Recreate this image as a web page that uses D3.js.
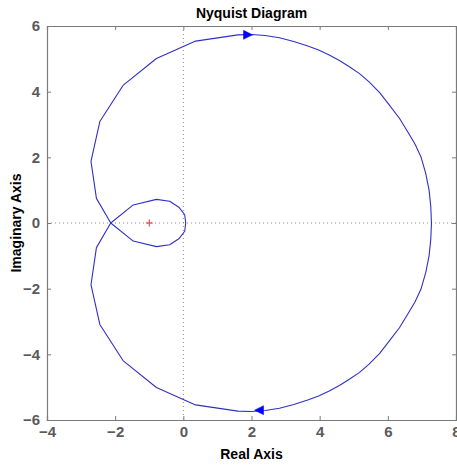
<!DOCTYPE html>
<html>
<head>
<meta charset="utf-8">
<script src="https://cdn.jsdelivr.net/npm/d3@7"></script>
<style>
  html, body { margin: 0; padding: 0; background: #fff; }
  svg { display: block; }
</style>
</head>
<body>
<script>
// Frequency response G(jw) for w >= 0 (real and imaginary parts)
const posRe = [7.28, 7.26, 7.21, 7.11, 6.97, 6.80, 6.60, 6.34, 6.04, 5.76, 5.45, 5.17, 4.87, 4.58, 4.28, 3.97, 3.65, 3.24, 2.82, 2.40, 2.0, 1.6, 0.36, -0.79, -1.77, -2.45, -2.71, -2.55, -2.13, -1.47, -0.79, -0.40, -0.12, 0.04, 0.07];
const posIm = [0, -0.50, -1.0, -1.52, -2.02, -2.40, -2.75, -3.19, -3.60, -3.97, -4.30, -4.55, -4.76, -4.95, -5.12, -5.27, -5.39, -5.53, -5.64, -5.71, -5.74, -5.73, -5.54, -5.01, -4.19, -3.09, -1.88, -0.75, 0, 0.55, 0.72, 0.66, 0.47, 0.25, 0];

// Direction markers along the curve (position and heading: +1 right, -1 left)
const arrowRe = [2.03, 2.09];
const arrowIm = [5.73, -5.70];
const arrowDir = [1, -1];

// Critical point -1 + 0j
const critical = [{ re: -1, im: 0 }];

const xTicks = [-4, -2, 0, 2, 4, 6, 8];
const yTicks = [-6, -4, -2, 0, 2, 4, 6];

const W = 457, H = 466;
const margin = { left: 47, right: 1, top: 26, bottom: 46 };

const svg = d3.select("body").append("svg")
  .attr("width", W).attr("height", H);

svg.append("rect").attr("width", W).attr("height", H).attr("fill", "#fff");

const x = d3.scaleLinear().domain([-4, 8]).range([margin.left, W - margin.right]);
const y = d3.scaleLinear().domain([-6, 6]).range([H - margin.bottom, margin.top]);

const axisColor = "#7a7a7a";
const labelColor = "#5a5a5a";
const font = "'Liberation Sans', Arial, Helvetica, sans-serif";

// Zero reference lines
svg.append("line")
  .attr("x1", x(0)).attr("x2", x(0)).attr("y1", y(6)).attr("y2", y(-6))
  .attr("stroke", "#8a8a8a").attr("stroke-width", 1).attr("stroke-dasharray", "1,3");
svg.append("line")
  .attr("x1", x(-4)).attr("x2", x(8)).attr("y1", y(0)).attr("y2", y(0))
  .attr("stroke", "#8a8a8a").attr("stroke-width", 1).attr("stroke-dasharray", "1,3");

// Full contour: mirror of the w>=0 branch (w<0), followed by the w>=0 branch
const pos = posRe.map((r, i) => ({ re: r, im: posIm[i] }));
const neg = pos.map(p => ({ re: p.re, im: -p.im })).reverse();
const contour = neg.concat(pos.slice(1));

const line = d3.line().x(d => x(d.re)).y(d => y(d.im));

svg.append("path")
  .datum(contour)
  .attr("d", line)
  .attr("fill", "none")
  .attr("stroke", "#3030c4")
  .attr("stroke-width", 1.1)
  .attr("stroke-linejoin", "round");

// Direction arrows
arrowRe.forEach((r, i) => {
  const px = x(r), py = y(arrowIm[i]), d = arrowDir[i];
  const pts = [[px, py], [px - d * 9, py - 4.5], [px - d * 9, py + 4.5]];
  svg.append("path")
    .attr("d", "M" + pts.map(p => p.join(",")).join("L") + "Z")
    .attr("fill", "#0000ff").attr("stroke", "#0000ff").attr("stroke-width", 0.5);
});

// Critical point marker
svg.selectAll(".crit").data(critical).enter().append("path")
  .attr("class", "crit")
  .attr("d", d => {
    const cx = x(d.re), cy = y(d.im);
    return `M${cx - 3.5},${cy}H${cx + 3.5}M${cx},${cy - 3.5}V${cy + 3.5}`;
  })
  .attr("stroke", "#e03030").attr("stroke-width", 1);

// Axes box
const gAxes = svg.append("g");
const xAxisB = d3.axisBottom(x).tickValues(xTicks).tickSize(-4).tickPadding(6).tickFormat(d3.format("d"));
const xAxisT = d3.axisTop(x).tickValues(xTicks).tickSize(-4).tickFormat("");
const yAxisL = d3.axisLeft(y).tickValues(yTicks).tickSize(-4).tickPadding(7).tickFormat(d3.format("d"));
const yAxisR = d3.axisRight(y).tickValues(yTicks).tickSize(-4).tickFormat("");

gAxes.append("g").attr("transform", `translate(0,${y(-6)})`).call(xAxisB);
gAxes.append("g").attr("transform", `translate(0,${y(6)})`).call(xAxisT);
gAxes.append("g").attr("transform", `translate(${x(-4)},0)`).call(yAxisL);
gAxes.append("g").attr("transform", `translate(${x(8)},0)`).call(yAxisR);

gAxes.selectAll(".domain").attr("stroke", axisColor).attr("stroke-width", 1.2);
gAxes.selectAll(".tick line").attr("stroke", axisColor).attr("stroke-width", 1);
gAxes.selectAll(".tick text")
  .attr("fill", labelColor)
  .style("font-family", font)
  .style("font-size", "15px")
  .style("font-weight", "bold");

// Titles
svg.append("text")
  .attr("x", (x(-4) + x(8)) / 2).attr("y", 18)
  .attr("text-anchor", "middle")
  .style("font-family", font).style("font-size", "14px").style("font-weight", "bold")
  .attr("fill", "#000")
  .text("Nyquist Diagram");

svg.append("text")
  .attr("x", (x(-4) + x(8)) / 2).attr("y", 459)
  .attr("text-anchor", "middle")
  .style("font-family", font).style("font-size", "14px").style("font-weight", "bold")
  .attr("fill", "#000")
  .text("Real Axis");

svg.append("text")
  .attr("transform", `translate(21,${(y(6) + y(-6)) / 2}) rotate(-90)`)
  .attr("text-anchor", "middle")
  .style("font-family", font).style("font-size", "14px").style("font-weight", "bold")
  .attr("fill", "#000")
  .text("Imaginary Axis");
</script>
</body>
</html>
